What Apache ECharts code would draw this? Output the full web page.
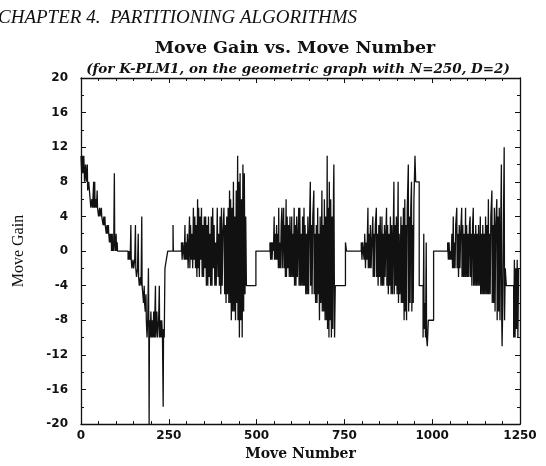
<!DOCTYPE html>
<html>
<head>
<meta charset="utf-8">
<script src="https://cdn.jsdelivr.net/npm/echarts@6/dist/echarts.min.js"></script>
<style>
  html, body { margin: 0; padding: 0; background: #fff; }
  #chart { width: 546px; height: 466px; }
</style>
</head>
<body>
<div id="chart"></div>
<script>
// move gain readings, [move number, gain], one array per pass
const pass1 = [
  [0,11],[2,9],[4,11],[6,9],[8,11],[10,8],[13,10],[15,8],[18,10],[19,7],[22,8],[24,7],[26,6],[28,5],
  [31,6],[33,5],[36,8],[37,5],[39,8],[40,5],[43,6],[44,5],[46,7],[47,5],[50,4],[53,5],[54,4],[58,5],
  [59,4],[63,3],[65,4],[66,3],[68,4],[69,3],[72,2],[74,3],[75,2],[78,3],[79,2],[81,1],[83,2],[84,1],
  [86,2],[87,0],[89,2],[90,0],[92,1],[93,0],[95,9],[96,1],[98,0],[100,2],[101,0],[103,1],[104,0],
  [134,-1],[136,0],[137,-1],[139,0],[140,-1],[142,3],[143,-1],[145,-2],[148,-1],[150,-2],[153,-1],
  [155,3],[156,-2],[158,-3],[161,-2],[163,2],[164,-3],[166,-4],[169,-3],[171,-4],[173,4],[174,-4],
  [176,-5],[178,-6],[180,-4],[181,-6],[183,-7],[185,-5],[186,-8],[188,-10],[190,-8],[192,-2],[193,-8],
  [194,-20],[195,-8],[197,-10],[199,-7],[201,-10],[203,-8],[205,-10],[207,-7],[209,-10],[212,-4],
  [213,-10],[216,-7],[218,-10],[221,-8],[223,-4],[224,-10],[226,-8],[228,-10],[230,-8],[232,-10],
  [234,-18],[235,-9],[237,-10],[239,-2],[243,-1],[247,0],[262,3],[263,0]
];
const pass2 = [
  [286,1],[288,-1],[290,1],[292,0],[294,-1],[296,3],[297,-1],[299,1],[301,-1],[303,2],[305,-2],[307,1],
  [309,4],[310,-2],[312,3],[314,-1],[316,2],[318,-2],[320,5],[322,-1],[324,4],[326,-2],[328,3],[330,-3],
  [332,6],[333,-2],[335,5],[337,-3],[339,4],[341,-1],[343,5],[345,-3],[347,3],[349,-3],[351,4],[353,-2],
  [355,4],[357,-4],[359,3],[361,-4],[363,4],[365,-3],[367,2],[369,-4],[371,4],[373,-4],[375,5],[377,-2],
  [379,3],[381,-4],[383,1],[385,-4],[388,5],[390,-3],[392,2],[394,-4],[396,4],[398,-5],[400,5],[402,-4],
  [404,2],[407,5],[409,-5],[411,3],[413,-6],[415,4],[417,-5],[419,5],[421,-6],[423,7],[425,-6],[426,6],
  [428,-8],[430,5],[432,-7],[434,8],[436,-7],[438,4],[440,-8],[442,7],[444,-6],[446,11],[447,-8],[449,8],
  [451,-10],[453,9],[455,-8],[457,6],[459,-10],[461,10],[463,-7],[465,9],[467,-5],[469,4],[471,-4],[498,0]
];
const pass3 = [
  [538,1],[540,-1],[542,1],[544,-1],[546,1],[548,0],[550,4],[551,-1],[553,2],[555,-1],[557,3],[558,-1],
  [560,2],[562,-2],[563,5],[564,-2],[566,1],[568,-2],[570,3],[572,5],[573,-2],[575,2],[577,5],[578,-2],
  [580,3],[582,-3],[584,6],[585,-3],[587,4],[589,-2],[591,3],[593,-3],[595,4],[597,-3],[600,4],[601,-3],
  [603,2],[605,-3],[607,5],[608,-4],[610,3],[612,-4],[614,4],[616,-3],[618,2],[620,5],[621,-4],[623,5],
  [625,-4],[627,2],[629,-4],[631,4],[633,-4],[635,5],[636,-4],[638,3],[640,-5],[642,2],[644,-5],[646,4],
  [648,-5],[650,2],[653,8],[654,-4],[656,3],[658,-5],[660,4],[663,7],[664,-5],[666,2],[668,-6],[670,3],
  [672,-6],[674,5],[675,-5],[677,2],[679,-8],[681,4],[683,-6],[686,7],[687,-7],[689,3],[691,-7],[693,6],
  [695,-8],[697,4],[699,-8],[701,11],[702,-9],[704,5],[706,-10],[707,8],[709,-8],[711,6],[713,-10],
  [715,4],[717,-9],[719,7],[720,10],[722,-10],[724,-4],[753,1],[756,0]
];
const pass4 = [
  [798,1],[800,-1],[802,1],[804,0],[806,-1],[808,2],[810,-2],[812,1],[814,-1],[817,5],[818,-2],[820,2],
  [822,-2],[824,3],[826,-2],[828,1],[831,4],[832,-3],[834,2],[836,-3],[838,3],[841,5],[842,-3],[844,2],
  [846,-4],[848,3],[850,-3],[852,4],[854,-4],[857,4],[858,-4],[860,2],[862,-4],[864,3],[866,-3],[868,2],
  [870,5],[871,-4],[873,3],[875,-5],[877,2],[879,-4],[881,4],[883,-5],[885,3],[887,-5],[889,2],[891,8],
  [892,-5],[894,3],[896,-4],[898,4],[900,-5],[903,8],[904,-6],[906,2],[908,-5],[911,4],[912,-6],[914,3],
  [916,-6],[918,5],[920,-8],[922,6],[923,-7],[925,3],[927,-8],[929,5],[932,10],[933,-7],[935,4],[937,-6],
  [939,5],[941,8],[942,-7],[944,3],[946,-6],[948,6],[951,11],[953,8],[963,-4],[974,-10],[976,2],[977,-9],
  [979,-6],[981,-10],[983,1],[984,-10],[986,-11],[988,-9],[989,-8],[1004,0]
];
const pass5 = [
  [1044,1],[1046,-1],[1048,1],[1050,-1],[1052,0],[1054,-1],[1056,2],[1058,-2],[1060,4],[1061,-2],
  [1063,1],[1065,-2],[1067,3],[1070,5],[1071,-2],[1073,2],[1075,-3],[1077,3],[1079,-2],[1081,2],
  [1084,5],[1085,-3],[1087,3],[1089,-3],[1091,2],[1093,-3],[1095,5],[1096,-3],[1098,3],[1100,-3],
  [1102,2],[1104,-3],[1106,3],[1108,4],[1109,-3],[1111,2],[1113,-4],[1115,3],[1117,5],[1118,-4],
  [1120,2],[1122,-4],[1124,3],[1126,-4],[1128,2],[1130,-4],[1132,3],[1134,-4],[1137,4],[1138,-5],
  [1140,2],[1142,-5],[1144,3],[1146,-5],[1148,2],[1150,-5],[1152,4],[1154,-5],[1156,3],[1158,-5],
  [1160,6],[1161,-5],[1163,2],[1165,-5],[1167,4],[1170,7],[1171,-6],[1173,3],[1175,-6],[1177,5],
  [1179,-7],[1181,3],[1184,6],[1185,-8],[1187,4],[1189,-7],[1191,5],[1193,-8],[1195,3],[1197,10],
  [1198,-8],[1199,-11],[1201,-6],[1203,4],[1205,12],[1206,-8],[1208,-2],[1211,-4],[1232,-10],[1234,-1],
  [1236,-10],[1238,-2],[1240,-9],[1242,-1],[1244,-10],[1246,-2],[1247,-2]
];
const xTicks = [0, 250, 500, 750, 1000, 1250];
const yTicks = [-20, -16, -12, -8, -4, 0, 4, 8, 12, 16, 20];

const moveGain = [].concat(pass1, pass2, pass3, pass4, pass5);

const chart = echarts.init(document.getElementById('chart'));

const ink = '#111';
const serif = '"Liberation Serif", serif';
const wideSerif = '"DejaVu Serif", serif';
const tickFont = { fontFamily: '"DejaVu Sans", sans-serif', fontWeight: 'bold', fontSize: 12, color: ink };

function frameAxis(pos, isX) {
  return {
    type: 'value',
    position: pos,
    min: isX ? xTicks[0] : yTicks[0],
    max: isX ? xTicks[xTicks.length - 1] : yTicks[yTicks.length - 1],
    interval: isX ? 250 : 4,
    axisLine: { show: true, onZero: false, lineStyle: { color: ink, width: 1.3 } },
    axisTick: { show: true, inside: true, length: 5, lineStyle: { color: ink, width: 1 } },
    minorTick: { show: true, splitNumber: isX ? 5 : 2, length: 3, lineStyle: { color: ink, width: 1 } },
    splitLine: { show: false },
    axisLabel: { show: false }
  };
}

const xBottom = frameAxis('bottom', true);
xBottom.axisLabel = Object.assign({ show: true, margin: 6, formatter: v => String(v) }, tickFont);
xBottom.name = 'Move Number';
xBottom.nameLocation = 'middle';
xBottom.nameGap = 19;
xBottom.nameTextStyle = { fontFamily: wideSerif, fontWeight: 'bold', fontSize: 14, color: ink };

const yLeft = frameAxis('left', false);
yLeft.axisLabel = Object.assign({ show: true, margin: 13, formatter: v => String(v) }, tickFont);
yLeft.name = 'Move Gain';
yLeft.nameLocation = 'middle';
yLeft.nameGap = 54;
yLeft.nameTextStyle = { fontFamily: serif, fontSize: 16, color: ink };

chart.setOption({
  animation: false,
  backgroundColor: '#fff',
  title: [
    { text: 'CHAPTER 4.  PARTITIONING ALGORITHMS', left: -7, top: 3,
      textStyle: { fontFamily: serif, fontStyle: 'italic', fontWeight: 'normal', fontSize: 19, color: ink } },
    { text: 'Move Gain vs. Move Number', left: 290, top: 34, textAlign: 'center',
      textStyle: { fontFamily: wideSerif, fontWeight: 'bold', fontSize: 17.5, color: ink } },
    { text: '(for K-PLM1, on the geometric graph with N=250, D=2)', left: 293, top: 57, textAlign: 'center',
      textStyle: { fontFamily: wideSerif, fontStyle: 'italic', fontWeight: 'bold', fontSize: 13.5, color: ink } }
  ],
  grid: { left: 81, right: 26, top: 78, bottom: 29, containLabel: false },
  xAxis: [xBottom, frameAxis('top', true)],
  yAxis: [yLeft, frameAxis('right', false)],
  series: [{
    type: 'line',
    xAxisIndex: 0,
    yAxisIndex: 0,
    step: 'end',
    showSymbol: false,
    symbol: 'none',
    data: moveGain,
    lineStyle: { color: ink, width: 1.3 },
    clip: true
  }]
});
</script>
</body>
</html>
